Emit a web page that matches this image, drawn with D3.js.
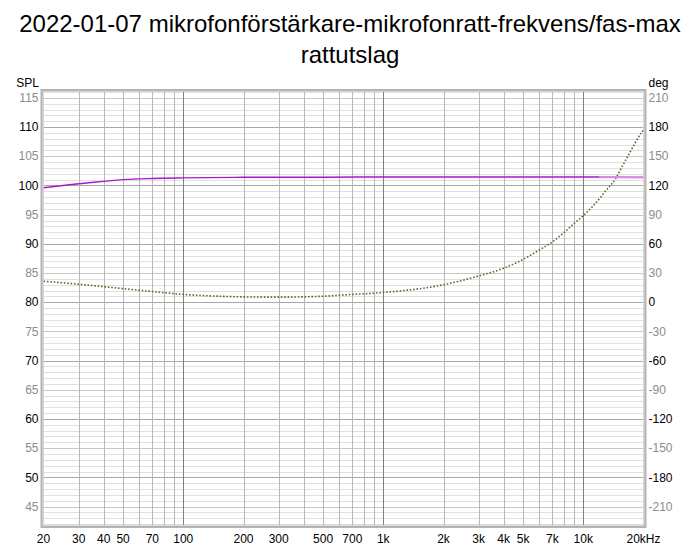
<!DOCTYPE html>
<html>
<head>
<meta charset="utf-8">
<script src="https://cdn.jsdelivr.net/npm/d3@7"></script>
<style>
  html, body { margin: 0; padding: 0; background: #fff; }
  svg { display: block; font-family: "Liberation Sans", Arial, sans-serif; }
</style>
</head>
<body>
<svg id="chart" width="700" height="550"></svg>
<script>
// ---- data ----
const titleLines = ["2022-01-07 mikrofonförstärkare-mikrofonratt-frekvens/fas-max", "rattutslag"];
const splFreq = [20, 25, 30, 40, 50, 70, 100, 200, 500, 1000, 2000, 5000, 10000, 12000, 15000, 20000];
const splValues = [99.6, 100.0, 100.3, 100.7, 101.0, 101.2, 101.3, 101.4, 101.42, 101.45, 101.45, 101.45, 101.45, 101.44, 101.42, 101.38];
const phaseFreq = [20, 30, 50, 70, 100, 150, 200, 300, 500, 700, 1000, 2000, 3000, 4000, 5000, 6000, 7000, 8000, 9000, 10000, 12000, 13000, 14500, 15500, 17000, 19500, 20000];
const phaseValues = [21.6, 18.5, 14, 11, 8, 6.2, 5.5, 5.2, 6.2, 8, 10, 18, 27, 35, 44, 53.5, 62, 71.5, 81, 89, 106, 115, 127, 138, 153, 174, 177];
const xTickValues = [20, 30, 40, 50, 70, 100, 200, 300, 500, 700, 1000, 2000, 3000, 4000, 5000, 7000, 10000, 20000];
const xTickLabels = ["20", "30", "40", "50", "70", "100", "200", "300", "500", "700", "1k", "2k", "3k", "4k", "5k", "7k", "10k", "20kHz"];
const splTicks = [45, 50, 55, 60, 65, 70, 75, 80, 85, 90, 95, 100, 105, 110, 115];
const degTicks = [-210, -180, -150, -120, -90, -60, -30, 0, 30, 60, 90, 120, 150, 180, 210];

// ---- layout ----
const L = 43.5, R = 643.5, T = 91.5, B = 525.5;
const svg = d3.select("#chart");

const x = d3.scaleLog().domain([20, 20000]).range([L, R]);
const y = d3.scaleLinear().domain([41.75, 116.1]).range([B, T]);
const yDeg = d3.scaleLinear().domain([(41.75 - 80) * 6, (116.1 - 80) * 6]).range([B, T]);

// title
svg.append("g").selectAll("text").data(titleLines).join("text")
  .attr("x", 350).attr("y", (d, i) => 32 + i * 31)
  .attr("text-anchor", "middle").attr("font-size", 24).attr("fill", "#000")
  .text(d => d);

// plot background
svg.append("rect").attr("x", L).attr("y", T).attr("width", R - L).attr("height", B - T).attr("fill", "#fff");

// horizontal grid (1 dB)
const hGrid = d3.range(42, 117, 1);
svg.append("g").selectAll("line").data(hGrid).join("line")
  .attr("x1", L).attr("x2", R)
  .attr("y1", d => Math.round(y(d)) + 0.5).attr("y2", d => Math.round(y(d)) + 0.5)
  .attr("stroke", d => d % 10 === 0 ? "#a8a8a8" : (d % 5 === 0 ? "#c8c8c8" : "#e0e0e0"))
  .attr("stroke-width", 1);

// vertical grid
const vGrid = [];
[10, 100, 1000, 10000].forEach(dec => { for (let k = 1; k <= 9; k++) { const f = dec * k; if (f > 20 && f < 20000) vGrid.push(f); } });
svg.append("g").selectAll("line").data(vGrid).join("line")
  .attr("x1", d => Math.round(x(d)) + 0.5).attr("x2", d => Math.round(x(d)) + 0.5)
  .attr("y1", T).attr("y2", B)
  .attr("stroke", d => [100, 1000, 10000].includes(d) ? "#808080" : "#b8b8b8")
  .attr("stroke-width", 1);

// frame
svg.append("rect").attr("x", L - 1.5).attr("y", T - 1).attr("width", R - L + 3).attr("height", B - T + 2)
  .attr("fill", "none").attr("stroke", "#b4b4b4").attr("stroke-width", 3);
svg.append("rect").attr("x", L - 0.5).attr("y", T).attr("width", R - L + 1).attr("height", B - T)
  .attr("fill", "none").attr("stroke", "#d8d8d8").attr("stroke-width", 1);

// left axis labels
svg.append("g").selectAll("text").data(splTicks).join("text")
  .attr("x", 38.5).attr("y", d => y(d)).attr("dy", "0.35em")
  .attr("text-anchor", "end").attr("font-size", 12)
  .attr("fill", d => d % 10 === 0 ? "#000" : "#8c8c8c")
  .text(d => d);
svg.append("text").attr("x", 39).attr("y", 86.5).attr("text-anchor", "end").attr("font-size", 12).text("SPL");

// right axis labels
svg.append("g").selectAll("text").data(degTicks).join("text")
  .attr("x", 648.5).attr("y", d => yDeg(d)).attr("dy", "0.35em")
  .attr("text-anchor", "start").attr("font-size", 12)
  .attr("fill", d => (d / 30) % 2 === 0 ? "#000" : "#8c8c8c")
  .text(d => d);
svg.append("text").attr("x", 648.5).attr("y", 86.5).attr("text-anchor", "start").attr("font-size", 12).text("deg");

// x labels
svg.append("g").selectAll("text").data(xTickValues).join("text")
  .attr("x", d => x(d)).attr("y", 543)
  .attr("text-anchor", "middle").attr("font-size", 12).attr("fill", "#000")
  .text((d, i) => xTickLabels[i]);

// curves
svg.append("clipPath").attr("id", "clip").append("rect")
  .attr("x", L).attr("y", T).attr("width", R - L).attr("height", B - T);

const splData = splFreq.map((f, i) => [f, splValues[i]]);
const phaseData = phaseFreq.map((f, i) => [f, phaseValues[i]]);

const splLine = d3.line().x(d => x(d[0])).y(d => y(d[1])).curve(d3.curveMonotoneX);
const phaseLine = d3.line().x(d => x(d[0])).y(d => yDeg(d[1])).curve(d3.curveMonotoneX);

const g = svg.append("g").attr("clip-path", "url(#clip)");
g.append("path").datum(phaseData).attr("d", phaseLine)
  .attr("fill", "none").attr("stroke", "#6e6232").attr("stroke-width", 1.6)
  .attr("stroke-dasharray", "1.6,1.8");
g.append("path").datum(splData).attr("d", splLine)
  .attr("fill", "none").attr("stroke", "#a818c8").attr("stroke-width", 1.4);
g.append("path").datum(splData.filter(d => d[0] >= 12000)).attr("d", splLine)
  .attr("fill", "none").attr("stroke", "#d68ee4").attr("stroke-width", 2.2);
</script>
</body>
</html>
